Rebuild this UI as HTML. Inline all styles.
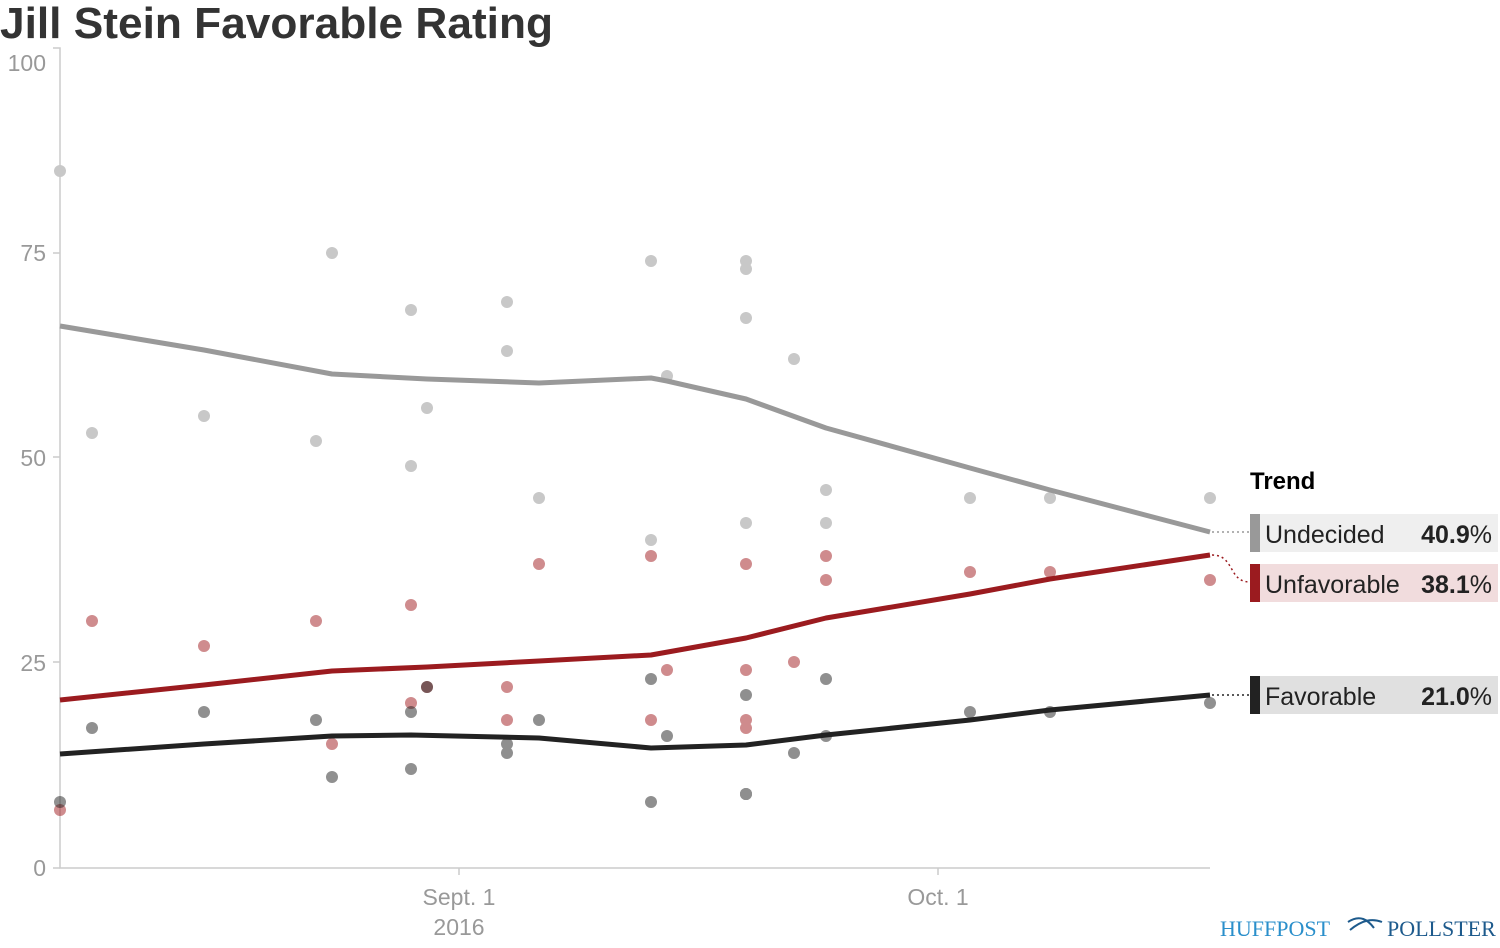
<!DOCTYPE html>
<html><head><meta charset="utf-8"><style>
body{margin:0;background:#fff}
svg{display:block;font-family:"Liberation Sans",sans-serif}
</style></head><body>
<svg width="1500" height="948" viewBox="0 0 1500 948">
<text x="0" y="38" font-size="44" font-weight="bold" fill="#333" textLength="553" lengthAdjust="spacingAndGlyphs">Jill Stein Favorable Rating</text>
<g stroke="#ccc" stroke-width="1.5" fill="none">
<path d="M53 48H60V868H1210"/>
<path d="M53 253H60M53 457H60M53 662H60M53 868H60M459 868V875M938 868V875"/>
</g>
<g fill="#999" font-size="23" text-anchor="end">
<text x="46" y="71">100</text><text x="46" y="261">75</text><text x="46" y="466">50</text><text x="46" y="671">25</text><text x="46" y="876">0</text>
</g>
<g fill="#999" font-size="23" text-anchor="middle">
<text x="459" y="905">Sept. 1</text><text x="459" y="935">2016</text><text x="938" y="905">Oct. 1</text>
</g>
<g fill="#c8c8c8">
<circle cx="60" cy="171" r="6"/><circle cx="92" cy="433" r="6"/><circle cx="204" cy="416" r="6"/><circle cx="316" cy="441" r="6"/><circle cx="332" cy="253" r="6"/><circle cx="411" cy="310" r="6"/><circle cx="411" cy="466" r="6"/><circle cx="427" cy="408" r="6"/><circle cx="507" cy="302" r="6"/><circle cx="507" cy="351" r="6"/><circle cx="539" cy="498" r="6"/><circle cx="651" cy="261" r="6"/><circle cx="651" cy="540" r="6"/><circle cx="667" cy="376" r="6"/><circle cx="746" cy="261" r="6"/><circle cx="746" cy="269" r="6"/><circle cx="746" cy="318" r="6"/><circle cx="746" cy="523" r="6"/><circle cx="794" cy="359" r="6"/><circle cx="826" cy="490" r="6"/><circle cx="826" cy="523" r="6"/><circle cx="970" cy="498" r="6"/><circle cx="1050" cy="498" r="6"/><circle cx="1210" cy="498" r="6"/>
</g>
<g fill="#a01a1e" opacity="0.5">
<circle cx="60" cy="810" r="6"/><circle cx="92" cy="621" r="6"/><circle cx="204" cy="646" r="6"/><circle cx="316" cy="621" r="6"/><circle cx="332" cy="744" r="6"/><circle cx="411" cy="605" r="6"/><circle cx="411" cy="703" r="6"/><circle cx="427" cy="687" r="6"/><circle cx="507" cy="687" r="6"/><circle cx="507" cy="720" r="6"/><circle cx="539" cy="564" r="6"/><circle cx="651" cy="556" r="6"/><circle cx="651" cy="720" r="6"/><circle cx="667" cy="670" r="6"/><circle cx="746" cy="564" r="6"/><circle cx="746" cy="670" r="6"/><circle cx="746" cy="720" r="6"/><circle cx="746" cy="728" r="6"/><circle cx="794" cy="662" r="6"/><circle cx="826" cy="556" r="6"/><circle cx="826" cy="580" r="6"/><circle cx="970" cy="572" r="6"/><circle cx="1050" cy="572" r="6"/><circle cx="1210" cy="580" r="6"/>
</g>
<g fill="#222" opacity="0.5">
<circle cx="60" cy="802" r="6"/><circle cx="92" cy="728" r="6"/><circle cx="204" cy="712" r="6"/><circle cx="316" cy="720" r="6"/><circle cx="332" cy="777" r="6"/><circle cx="411" cy="712" r="6"/><circle cx="411" cy="769" r="6"/><circle cx="427" cy="687" r="6"/><circle cx="507" cy="744" r="6"/><circle cx="507" cy="753" r="6"/><circle cx="539" cy="720" r="6"/><circle cx="651" cy="679" r="6"/><circle cx="651" cy="802" r="6"/><circle cx="667" cy="736" r="6"/><circle cx="746" cy="695" r="6"/><circle cx="746" cy="794" r="6"/><circle cx="746" cy="794" r="6"/><circle cx="746" cy="794" r="6"/><circle cx="794" cy="753" r="6"/><circle cx="826" cy="679" r="6"/><circle cx="826" cy="736" r="6"/><circle cx="970" cy="712" r="6"/><circle cx="1050" cy="712" r="6"/><circle cx="1210" cy="703" r="6"/>
</g>
<g fill="none" stroke-width="5" stroke-linejoin="round">
<polyline stroke="#999" points="60,326 204,350 332,374 427,379 539,383 651,378 667,381 746,399 826,428 970,468 1050,490 1210,532"/>
<polyline stroke="#9b1b1f" points="60,700 204,685 332,671 427,667 539,661 651,655 746,638 826,618 970,594 1050,579 1210,555"/>
<polyline stroke="#222" points="60,754 204,744 332,736 411,735 539,738 651,748 746,745 826,735 970,720 1050,710 1210,695"/>
</g>
<g fill="none" stroke-width="1.5" stroke-dasharray="2 3">
<path d="M1212 532H1250" stroke="#999"/>
<path d="M1212 555C1235 555 1228 582 1250 582" stroke="#9b1b1f"/>
<path d="M1212 695H1250" stroke="#222"/>
</g>
<text x="1250" y="489" font-size="24" font-weight="bold" fill="#000">Trend</text>
<rect x="1250" y="514" width="248" height="38" fill="#efefef"/><rect x="1250" y="514" width="10" height="38" fill="#999"/>
<rect x="1250" y="564" width="248" height="38" fill="#f1dcdd"/><rect x="1250" y="564" width="10" height="38" fill="#9b1b1f"/>
<rect x="1250" y="676" width="248" height="38" fill="#e0e0e0"/><rect x="1250" y="676" width="10" height="38" fill="#222"/>
<g font-size="25" fill="#222">
<text x="1265" y="543">Undecided</text><text x="1492" y="543" text-anchor="end"><tspan font-weight="bold">40.9</tspan>%</text>
<text x="1265" y="593">Unfavorable</text><text x="1492" y="593" text-anchor="end"><tspan font-weight="bold">38.1</tspan>%</text>
<text x="1265" y="705">Favorable</text><text x="1492" y="705" text-anchor="end"><tspan font-weight="bold">21.0</tspan>%</text>
</g>
<text x="1220" y="936" font-family="Liberation Serif,serif" font-size="22" fill="#2a8fcb">HUFFPOST</text>
<path d="M1348 922C1360 914 1368 920 1374 928M1350 930C1362 920 1372 918 1382 922" stroke="#1d5a8c" stroke-width="2" fill="none"/>
<text x="1387" y="936" font-family="Liberation Serif,serif" font-size="22" fill="#1d5a8c">POLLSTER</text>
</svg>
</body></html>
